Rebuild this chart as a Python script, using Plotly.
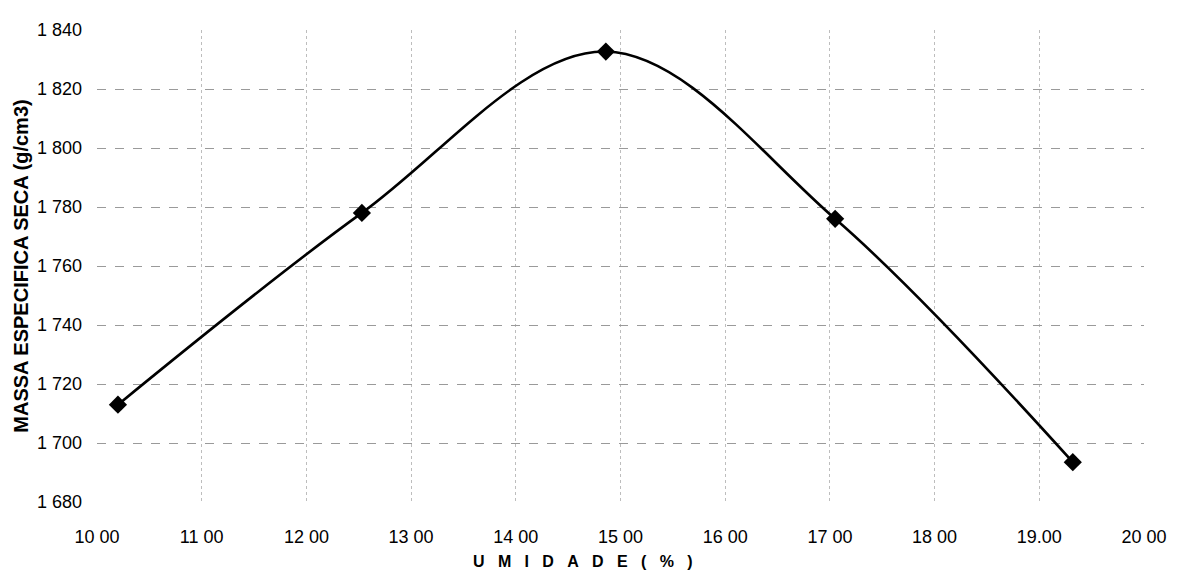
import plotly.graph_objects as go

umidade = [10.20, 12.53, 14.86, 17.05, 19.32]
massa = [1.713, 1.778, 1.8327, 1.776, 1.6935]

x_ticks = [10, 11, 12, 13, 14, 15, 16, 17, 18, 19, 20]
x_ticktext = ["10 00", "11 00", "12 00", "13 00", "14 00", "15 00", "16 00", "17 00", "18 00", "19.00", "20 00"]
y_ticks = [1.68, 1.70, 1.72, 1.74, 1.76, 1.78, 1.80, 1.82, 1.84]
y_ticktext = ["1 680", "1 700", "1 720", "1 740", "1 760", "1 780", "1 800", "1 820", "1 840"]

FONT = "Liberation Sans, Arial, sans-serif"
SP = "\u00a0" * 3
x_title = SP.join(list("UMIDADE") + ["(", "%", ")"])

fig = go.Figure()
fig.add_trace(go.Scatter(
    x=umidade, y=massa, mode="lines+markers",
    line=dict(color="black", width=2.6, shape="spline", smoothing=1.0),
    marker=dict(symbol="diamond", size=14, color="black"),
    showlegend=False,
))

# page body has an 8px default margin: size the figure so it fits the window
fig.update_layout(
    width=1171, height=576,
    margin=dict(l=89, r=32, t=12, b=82),
    paper_bgcolor="white", plot_bgcolor="white",
    font=dict(family=FONT, size=16, color="black"),
    xaxis=dict(
        range=[10, 20], tickvals=x_ticks, ticktext=x_ticktext,
        showline=False, zeroline=False, ticks="",
        showgrid=True, gridcolor="#bdbdbd", griddash="dot", gridwidth=1,
        tickfont=dict(size=18, family=FONT), ticklabelstandoff=22,
    ),
    yaxis=dict(
        range=[1.68, 1.84], tickvals=y_ticks, ticktext=y_ticktext,
        showline=False, zeroline=False, ticks="",
        showgrid=True, gridcolor="#9a9a9a", griddash="dash", gridwidth=1,
        tickfont=dict(size=18, family=FONT), ticklabelstandoff=14,
        title=dict(text="<b>MASSA ESPECIFICA SECA (g/cm3)</b>", font=dict(size=20, family=FONT), standoff=2),
    ),
    annotations=[dict(
        text="<b>" + x_title + "</b>", xref="paper", yref="paper",
        x=0.4645, y=-0.127, xanchor="center", yanchor="middle",
        showarrow=False, font=dict(size=16, family=FONT, color="black"),
    )],
)

fig.write_html("out.html")
